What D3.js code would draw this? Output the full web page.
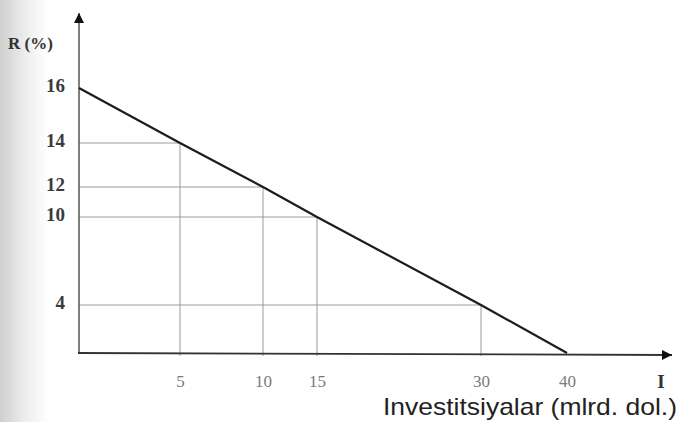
<!DOCTYPE html>
<html>
<head>
<meta charset="utf-8">
<script src="https://cdn.jsdelivr.net/npm/d3@7"></script>
<style>
  html, body { margin: 0; padding: 0; background: #fff; }
  svg { display: block; }
</style>
</head>
<body>
<svg id="chart" width="680" height="422"></svg>
<script>
// Data: investment demand line R = f(I)
const investment = [0, 5, 10, 15, 30, 40];
const rate = [16, 14, 12, 10, 4, 0];
const xTickValues = [5, 10, 15, 30, 40];
const yTickValues = [4, 10, 12, 14, 16];
const yAxisLabel = "R (%)";
const xAxisSymbol = "I";
const xAxisTitle = "Investitsiyalar (mlrd. dol.)";

const svg = d3.select("#chart");

// scan shading on the left edge
const defs = svg.append("defs");
const grad = defs.append("linearGradient").attr("id", "shade").attr("x1", 0).attr("x2", 1).attr("y1", 0).attr("y2", 0);
grad.append("stop").attr("offset", 0).attr("stop-color", "#cfcfcf");
grad.append("stop").attr("offset", 0.5).attr("stop-color", "#ececec");
grad.append("stop").attr("offset", 1).attr("stop-color", "#ffffff");
svg.append("rect").attr("x", 0).attr("y", 0).attr("width", 48).attr("height", 422).attr("fill", "url(#shade)");

// hand-drawn (non-uniform) axes: piecewise linear scales
const x = d3.scaleLinear().domain([0, 5, 10, 15, 30, 40]).range([79, 180, 263, 317, 481, 567]);
const y = d3.scaleLinear().domain([0, 4, 10, 12, 14, 16]).range([353, 305, 217, 187, 143, 88]);

const pts = investment.map((v, i) => ({ i: v, r: rate[i] }));

// guide lines
const guides = svg.append("g").attr("stroke", "#9a9a9a").attr("stroke-width", 1).attr("fill", "none");
pts.filter(d => d.i > 0 && d.r > 0).forEach(d => {
  guides.append("line").attr("x1", x(0)).attr("x2", x(d.i)).attr("y1", y(d.r)).attr("y2", y(d.r));
  guides.append("line").attr("x1", x(d.i)).attr("x2", x(d.i)).attr("y1", y(d.r)).attr("y2", y(0) + 3);
});

// axes lines with arrows
defs.append("marker").attr("id", "arrow").attr("viewBox", "0 0 10 10").attr("refX", 10).attr("refY", 5)
  .attr("markerWidth", 10).attr("markerHeight", 10).attr("markerUnits", "userSpaceOnUse").attr("orient", "auto")
  .append("path").attr("d", "M0,0 L10,5 L0,10 Z").attr("fill", "#111");

svg.append("line").attr("x1", x(0)).attr("x2", x(0)).attr("y1", y(0)).attr("y2", 13)
  .attr("stroke", "#555").attr("stroke-width", 1.5).attr("marker-end", "url(#arrow)");
svg.append("line").attr("x1", x(0) - 1).attr("x2", 672).attr("y1", y(0)).attr("y2", y(0) + 2)
  .attr("stroke", "#333").attr("stroke-width", 1.8).attr("marker-end", "url(#arrow)");

// tick labels through d3 axes
const yAxis = svg.append("g").attr("transform", `translate(${x(0)},0)`)
  .call(d3.axisLeft(y).tickValues(yTickValues).tickSize(0).tickPadding(14).tickFormat(d3.format("d")));
yAxis.select(".domain").remove();
yAxis.selectAll("text").attr("font-family", "'Liberation Serif', serif").attr("font-size", 19)
  .attr("font-weight", "bold").attr("fill", "#3a3a3a").attr("dy", "0.2em");

const xAxis = svg.append("g").attr("transform", `translate(0,${y(0)})`)
  .call(d3.axisBottom(x).tickValues(xTickValues).tickSize(0).tickPadding(22).tickFormat(d3.format("d")));
xAxis.select(".domain").remove();
xAxis.selectAll("text").attr("font-family", "'Liberation Serif', serif").attr("font-size", 17)
  .attr("fill", "#7a7a7a");

// axis labels
svg.append("text").attr("x", 8).attr("y", 49).text(yAxisLabel)
  .attr("font-family", "'Liberation Serif', serif").attr("font-size", 17).attr("font-weight", "bold").attr("fill", "#333");
svg.append("text").attr("x", 661).attr("y", 388).attr("text-anchor", "middle").text(xAxisSymbol)
  .attr("font-family", "'Liberation Serif', serif").attr("font-size", 19).attr("font-weight", "bold").attr("fill", "#333");
svg.append("text").attr("x", 677).attr("y", 415).attr("text-anchor", "end").text(xAxisTitle)
  .attr("font-family", "'Liberation Sans', Arial, sans-serif").attr("font-size", 24).attr("fill", "#222")
  .attr("textLength", 294).attr("lengthAdjust", "spacingAndGlyphs");

// demand line
svg.append("path").datum(pts)
  .attr("d", d3.line().x(d => x(d.i)).y(d => y(d.r)))
  .attr("fill", "none").attr("stroke", "#1c1c1c").attr("stroke-width", 2.2);
</script>
</body>
</html>
